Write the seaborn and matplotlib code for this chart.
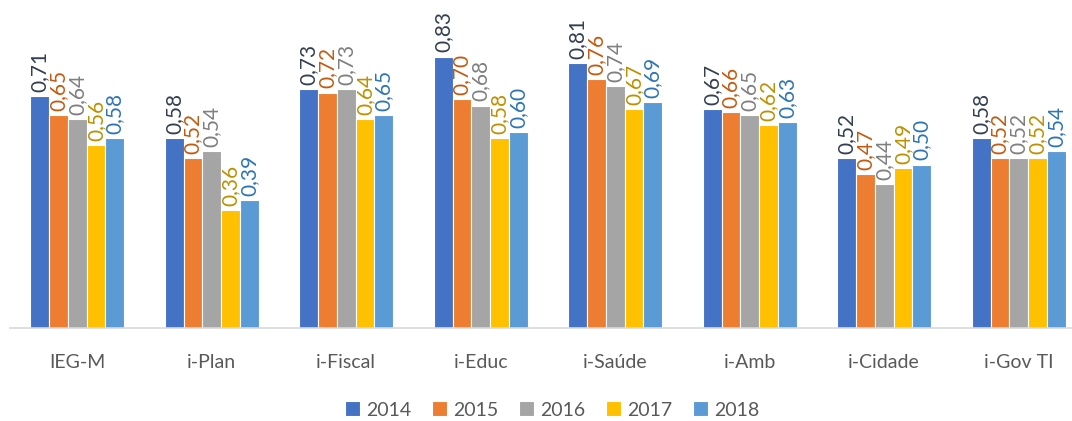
import matplotlib
matplotlib.use("Agg")
import matplotlib.pyplot as plt
import seaborn as sns
import pandas as pd

categories = ["IEG-M", "i-Plan", "i-Fiscal", "i-Educ", "i-Saúde", "i-Amb", "i-Cidade", "i-Gov TI"]
years = ["2014", "2015", "2016", "2017", "2018"]
v2014 = [0.71, 0.58, 0.73, 0.83, 0.81, 0.67, 0.52, 0.58]
v2015 = [0.65, 0.52, 0.72, 0.70, 0.76, 0.66, 0.47, 0.52]
v2016 = [0.64, 0.54, 0.73, 0.68, 0.74, 0.65, 0.44, 0.52]
v2017 = [0.56, 0.36, 0.64, 0.58, 0.67, 0.62, 0.49, 0.52]
v2018 = [0.58, 0.39, 0.65, 0.60, 0.69, 0.63, 0.50, 0.54]

bar_colors = ["#4472C4", "#ED7D31", "#A5A5A5", "#FFC000", "#5B9BD5"]
label_colors = ["#333F50", "#C55A11", "#7F7F7F", "#BF9000", "#2E75B6"]

series = [v2014, v2015, v2016, v2017, v2018]
rows = []
for y, vals in zip(years, series):
    for c, v in zip(categories, vals):
        rows.append({"cat": c, "year": y, "value": v})
df = pd.DataFrame(rows)

sns.set_style("white")
plt.rcParams["font.family"] = ["Lato", "DejaVu Sans"]

W, H = 1072, 421
fig = plt.figure(figsize=(W / 100, H / 100), dpi=100)
left_px, base_px = 10, 328
ax = fig.add_axes([left_px / W, 1 - base_px / H, 1 - left_px / W, (base_px - 1) / H])
sns.barplot(data=df, x="cat", y="value", hue="year", order=categories, hue_order=years,
            palette=bar_colors, width=0.70, edgecolor="white", linewidth=0.8,
            saturation=1, ax=ax, legend=True)

for cont, col in zip(ax.containers, label_colors):
    labels = [f"{v:.2f}".replace(".", ",") for v in cont.datavalues]
    ax.bar_label(cont, labels=labels, rotation=90, padding=3, color=col, fontsize=15)

ax.set_ylim(0, 1.0)
ax.set_xlim(-0.5, -0.5 + (W - left_px) / 134.5)
ax.set_xlabel("")
ax.set_ylabel("")
ax.set_yticks([])
ax.tick_params(axis="x", length=0, pad=19, labelsize=14, labelcolor="#595959")
for s in ["top", "right", "left"]:
    ax.spines[s].set_visible(False)
ax.spines["bottom"].set_color("#D9D9D9")
ax.spines["bottom"].set_linewidth(1.2)

handles, labs = ax.get_legend_handles_labels()
ax.legend(handles, labs, loc="center",
          bbox_to_anchor=((552 - left_px) / (W - left_px), -(410 - base_px) / (base_px - 1)),
          ncol=5, frameon=False, fontsize=14, handlelength=0.8, handleheight=0.8,
          handletextpad=0.3, columnspacing=1.05, labelcolor="#595959")

fig.savefig("out.png", dpi=100)
